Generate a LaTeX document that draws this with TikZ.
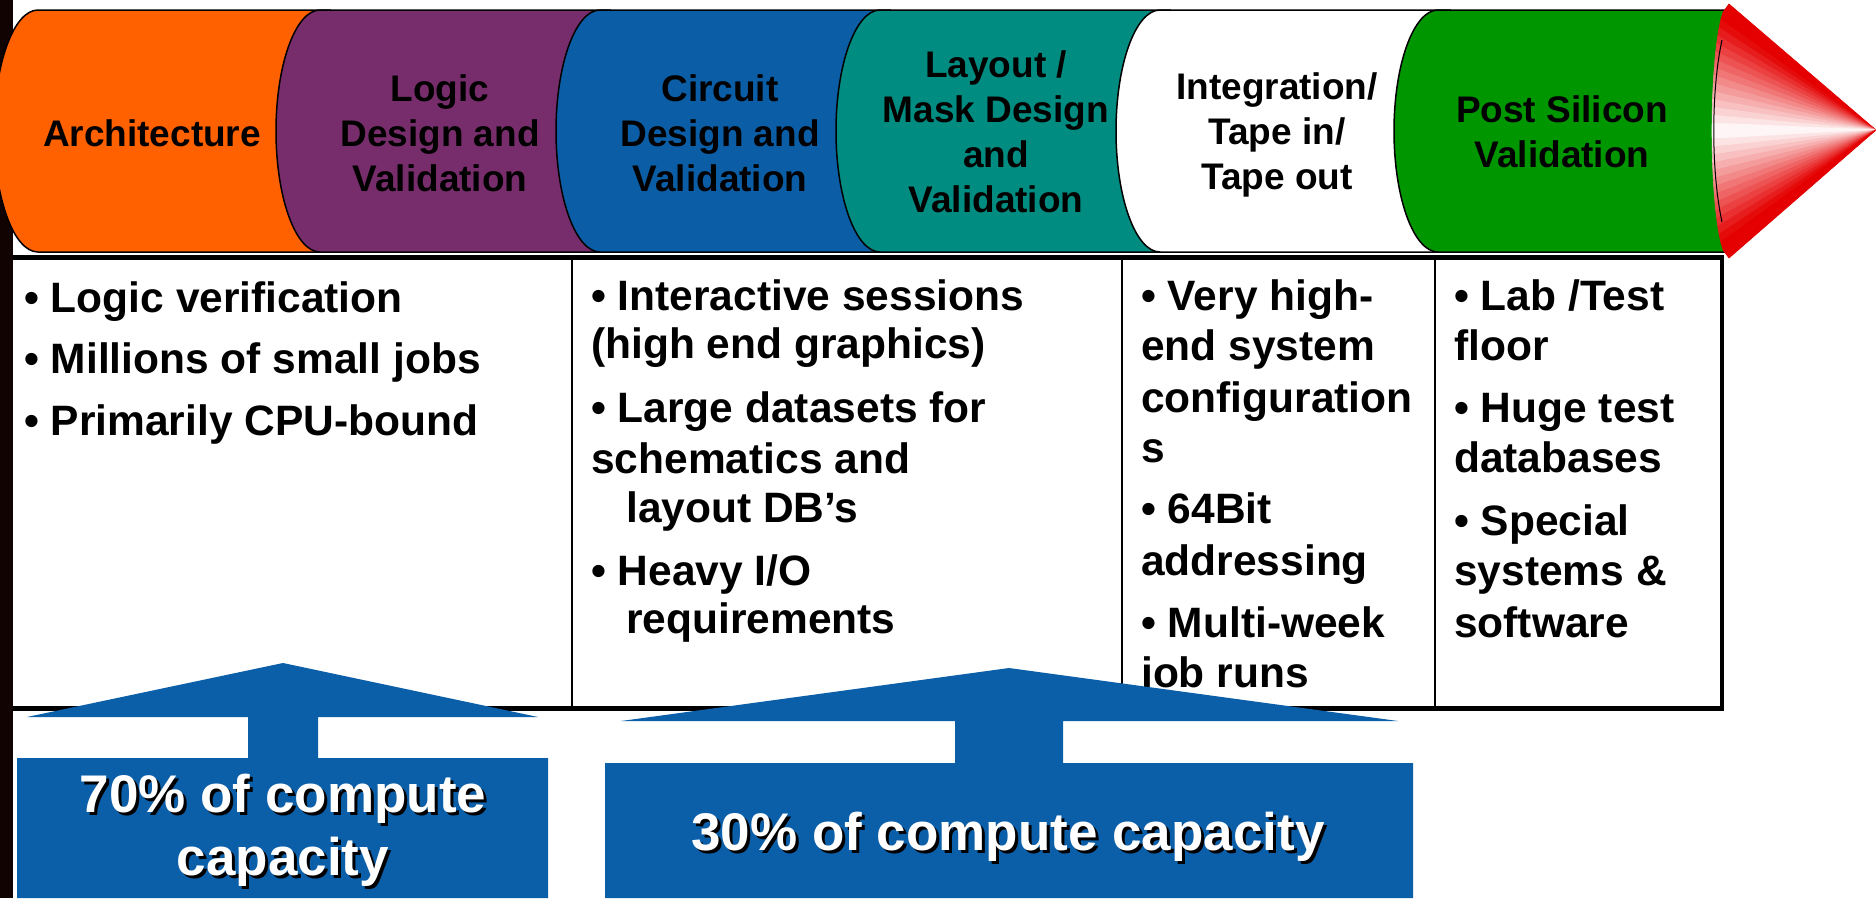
\documentclass[tikz,border=0pt]{standalone}
\usepackage{fontspec}
\setmainfont{Liberation Sans}
\definecolor{corange}{RGB}{255,96,0}
\definecolor{cpurple}{RGB}{119,45,107}
\definecolor{cblue}{RGB}{11,94,165}
\definecolor{cteal}{RGB}{0,140,128}
\definecolor{cgreen}{RGB}{0,150,0}
\definecolor{conered}{RGB}{228,0,0}
\definecolor{arrowblue}{RGB}{11,94,168}
\definecolor{stripdark}{RGB}{18,3,3}
\tikzset{
  segline/.style={draw=black, line width=1.5pt},
  hdr/.style={font=\fontsize{37}{45}\selectfont\bfseries, align=center, inner sep=0pt, text=black},
  body/.style={font=\fontsize{42.5}{50}\selectfont\bfseries, anchor=base west, inner sep=0pt, text=black},
  big/.style={font=\fontsize{53}{63}\selectfont\bfseries, anchor=base, inner sep=0pt},
  tblthick/.style={draw=black, line width=5pt},
  tblthin/.style={draw=black, line width=2pt},
  bigarrow/.style={fill=arrowblue, draw=none}
}
\newcommand\cylseg[3]{%
  \draw[segline, fill=#3] (#1,10) arc[start angle=270, end angle=90, x radius=44, y radius=121] -- (#2,252) -- (#2,10) -- cycle;}
\begin{document}
\begin{tikzpicture}[x=1pt,y=-1pt]
\useasboundingbox (0,0) rectangle (1876,898);
% left dark strip
\fill[stripdark] (0,0) rectangle (13,898);
% table
\draw[tblthick] (13,257) -- (1724,257);
\draw[tblthick] (13,708) -- (1724,708);
\draw[draw=black, line width=4pt] (1722,255) -- (1722,710);
\draw[tblthin] (572,257) -- (572,708);
\draw[tblthin] (1122,257) -- (1122,708);
\draw[tblthin] (1435,257) -- (1435,708);
% cylinder band
\cylseg{38}{330}{corange}
\cylseg{320}{610}{cpurple}
\cylseg{600}{890}{cblue}
\cylseg{880}{1170}{cteal}
\cylseg{1160}{1450}{white}
\cylseg{1438}{1729}{cgreen}
% cone
\foreach \i in {0,...,31}{
  \pgfmathsetmacro\ya{4+\i*254/32}
  \pgfmathsetmacro\yb{4+(\i+1)*254/32}
  \pgfmathsetmacro\da{(\ya-131)/127}
  \pgfmathsetmacro\db{(\yb-131)/127}
  \pgfmathsetmacro\xa{1729-17*sqrt(max(0,1-\da*\da))}
  \pgfmathsetmacro\xb{1729-17*sqrt(max(0,1-\db*\db))}
  \pgfmathsetmacro\p{min(100,100*abs((\ya+\yb)/2-131)/112)}
  \filldraw[draw=conered!\p!white, fill=conered!\p!white, line width=0.6pt, line join=round] (1876,130) -- (\xa,\ya) -- (\xb,\yb) -- cycle;
}
\draw[black, line width=1pt] (1722,40) .. controls (1711,90) and (1711,172) .. (1722,222);
% header labels
\node[hdr] (arch) at (152,133) {Architecture};
\node[hdr] (logic) at (440,133) {Logic\\Design and\\Validation};
\node[hdr] (circ) at (720,133) {Circuit\\Design and\\Validation};
\node[hdr] (lay) at (996,132) {Layout /\\Mask Design\\and\\Validation};
\node[hdr] (integ) at (1277,135) {Integration/\\Tape in/\\Tape out};
\node[hdr] (post) at (1562,132) {Post Silicon\\Validation};
% column 1
\node[body] (c1a) at (24,312) {• Logic verification};
\node[body] (c1b) at (24,373) {• Millions of small jobs};
\node[body] (c1c) at (24,435) {• Primarily CPU-bound};
% column 2
\node[body] (c2a) at (591,310) {• Interactive sessions};
\node[body] (c2b) at (591,358) {(high end graphics)};
\node[body] (c2c) at (591,422) {• Large datasets for};
\node[body] (c2d) at (591,473) {schematics and};
\node[body] (c2e) at (626,522) {layout DB’s};
\node[body] (c2f) at (591,585) {• Heavy I/O};
\node[body] (c2g) at (626,633) {requirements};
% column 3
\begin{scope}
\clip (1124,260) rectangle (1433,691);
\node[body] (c3a) at (1141,310) {• Very high-};
\node[body] (c3b) at (1141,360) {end system};
\node[body] (c3c) at (1141,412) {configuration};
\node[body] (c3d) at (1141,462) {s};
\node[body] (c3e) at (1141,523) {• 64Bit};
\node[body] (c3f) at (1141,575) {addressing};
\node[body] (c3g) at (1141,637) {• Multi-week};
\node[body] (c3h) at (1141,687) {job runs};
\end{scope}
% column 4
\node[body] (c4a) at (1454,310) {• Lab /Test};
\node[body] (c4b) at (1454,360) {floor};
\node[body] (c4c) at (1454,422) {• Huge test};
\node[body] (c4d) at (1454,472) {databases};
\node[body] (c4e) at (1454,535) {• Special};
\node[body] (c4f) at (1454,585) {systems \&};
\node[body] (c4g) at (1454,637) {software};
% bottom arrows
\fill[bigarrow] (283,663) -- (538,717) -- (318,717) -- (318,758) -- (548,758) -- (548,898) -- (17,898) -- (17,758) -- (248,758) -- (248,717) -- (27,717) -- cycle;
\fill[bigarrow] (1009,668) -- (1398,721) -- (1063,721) -- (1063,763) -- (1413,763) -- (1413,898) -- (605,898) -- (605,763) -- (955,763) -- (955,721) -- (621,721) -- cycle;
\node[big, text=black] (s70a) at (286,815) {70\% of compute};
\node[big, text=white] (t70a) at (283,812) {70\% of compute};
\node[big, text=black] (s70b) at (286,878) {capacity};
\node[big, text=white] (t70b) at (283,875) {capacity};
\node[big, text=black] (s30) at (1011,853) {30\% of compute capacity};
\node[big, text=white] (t30) at (1008,850) {30\% of compute capacity};
\end{tikzpicture}
\end{document}
